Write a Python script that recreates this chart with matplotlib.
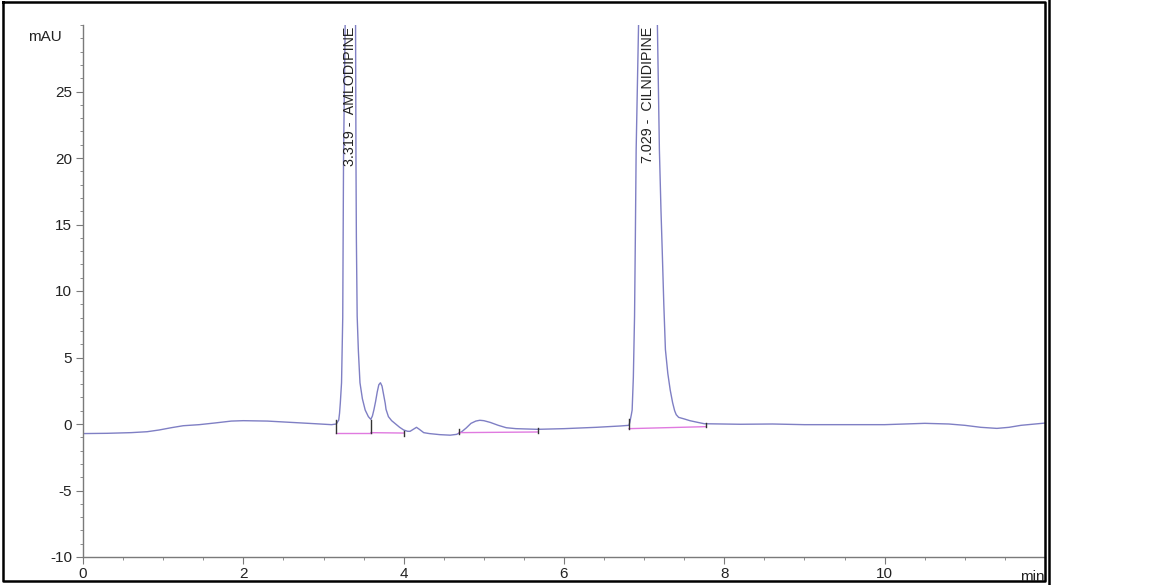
import numpy as np
import matplotlib
matplotlib.use("Agg")
import matplotlib.pyplot as plt
from matplotlib.lines import Line2D

plt.rcParams["font.family"] = ["Liberation Sans", "DejaVu Sans"]
plt.rcParams["axes.unicode_minus"] = False

# chromatogram trace (min, mAU)
time_min = [0.0, 0.3, 0.6, 0.8, 0.95, 1.1, 1.25, 1.45, 1.65, 1.85, 2.0, 2.3, 2.6, 2.9, 3.1,
            3.16, 3.19, 3.20, 3.21, 3.225, 3.24, 3.25, 3.27, 3.33, 3.40, 3.405, 3.41,
            3.42, 3.435, 3.455, 3.485, 3.52, 3.56, 3.59,
            3.61, 3.63, 3.65, 3.67, 3.69, 3.71, 3.73, 3.75, 3.77, 3.78, 3.81, 3.85,
            3.90, 3.95, 4.00, 4.05,
            4.08, 4.12, 4.16, 4.20, 4.25, 4.32, 4.45, 4.58, 4.66, 4.72, 4.78, 4.84,
            4.90, 4.95, 5.00, 5.08, 5.18, 5.28, 5.40, 5.67, 6.0, 6.4, 6.7, 6.81,
            6.82, 6.83, 6.84, 6.85, 6.865, 6.88, 6.89, 6.90, 6.93, 7.03, 7.165, 7.19,
            7.21, 7.225, 7.245, 7.265, 7.295, 7.325, 7.355, 7.38, 7.40, 7.43, 7.50, 7.57,
            7.67, 7.75, 8.2, 8.6, 9.0, 9.5, 10.0, 10.5, 10.8, 11.0, 11.2, 11.4, 11.55,
            11.7, 12.0]
signal_mau = [-0.72, -0.7, -0.65, -0.58, -0.45, -0.28, -0.13, -0.05, 0.08, 0.22, 0.25, 0.22,
              0.12, 0.02, -0.05,
              0.0, 0.3, 0.8, 1.6, 3.1, 8.0, 20.0, 30.0, 45.0, 30.0, 20.0, 14.0,
              8.1, 5.5, 3.1, 1.9, 1.05, 0.55, 0.35,
              0.6, 1.1, 1.7, 2.4, 2.95, 3.1, 2.85, 2.2, 1.55, 1.1, 0.55, 0.25,
              0.0, -0.25, -0.45, -0.55,
              -0.55, -0.4, -0.25, -0.42, -0.65, -0.72, -0.8, -0.84, -0.78, -0.6, -0.3,
              0.05, 0.22, 0.28, 0.25, 0.12, -0.1, -0.28, -0.35, -0.4, -0.35, -0.25,
              -0.15, -0.1,
              0.1, 0.4, 0.7, 1.05, 3.5, 8.1, 14.0, 20.6, 30.0, 50.0, 30.0, 20.6,
              16.0, 13.1, 9.0, 5.6, 3.8, 2.55, 1.6, 1.0, 0.7, 0.5, 0.38, 0.25,
              0.12, 0.02, -0.02, 0.0, -0.05, -0.05, -0.05, 0.05, 0.0, -0.1, -0.25,
              -0.33, -0.25, -0.1, 0.07]

# peak labels
peak_rt = [3.319, 7.029]
peak_label_x = [3.335, 7.05]
peak_names = ["AMLODIPINE", "CILNIDIPINE"]

# integration baselines (start, end)
base_t0 = [3.16, 3.59, 4.69, 6.81]
base_t1 = [3.59, 4.00, 5.67, 7.77]
base_y0 = [-0.65, -0.65, -0.65, -0.35]
base_y1 = [-0.65, -0.68, -0.60, -0.20]
# little marks at integration start/end (time, bottom, top)
mark_t = [3.16, 3.59, 4.00, 4.69, 5.67, 6.81, 7.77]
mark_lo = [-0.65, -0.65, -0.9, -0.75, -0.7, -0.35, -0.25]
mark_hi = [0.3, 0.3, -0.55, -0.4, -0.33, 0.4, 0.1]

W, H = 1154, 585
fig = plt.figure(figsize=(W / 100, H / 100), dpi=100)
ax = fig.add_axes([83 / W, 1 - 557 / H, (1045 - 83) / W, (557 - 25) / H])

ax.plot(time_min, signal_mau, color="#7f7fc4", lw=1.0)
for t0, t1, y0, y1 in zip(base_t0, base_t1, base_y0, base_y1):
    ax.plot([t0, t1], [y0, y1], color="#e07ae0", lw=1.0)
for t, lo, hi in zip(mark_t, mark_lo, mark_hi):
    ax.plot([t, t], [lo, hi], color="#333333", lw=1.0)

for x, rt, name in zip(peak_label_x, peak_rt, peak_names):
    ax.text(x, 29.9, f"{rt:.3f} -  {name}", rotation=90, ha="center", va="top",
            fontsize=10.3, color="#222222")

ax.set_xlim(0, 12)
ax.set_ylim(-10, 30)
ax.set_xticks([0, 2, 4, 6, 8, 10])
ax.set_xticks(np.arange(0.5, 12, 0.5), minor=True)
ax.set_yticks([-10, -5, 0, 5, 10, 15, 20, 25])
ax.set_yticks(np.arange(-10, 31, 1), minor=True)
for s in ["top", "right"]:
    ax.spines[s].set_visible(False)
for s in ["left", "bottom"]:
    ax.spines[s].set_color("#7a7a7a")
    ax.spines[s].set_linewidth(1.0)
ax.tick_params(axis="both", which="major", length=5, color="#7a7a7a",
               labelsize=11, labelcolor="#222222")
ax.tick_params(axis="both", which="minor", length=2.2, color="#7a7a7a")
ax.tick_params(axis="y", which="major", pad=3)
ax.tick_params(axis="x", which="major", pad=2)

fig.text(45 / W, 1 - 37 / H, "mAU", ha="center", va="center", fontsize=11, color="#222222")
fig.text(1045 / W, 1 - 577 / H, "min", ha="right", va="center", fontsize=11, color="#222222")

# outer frame of the picture
frame_x = [3, 1045, 1045, 3, 3]
frame_y = [2, 2, 581, 581, 2]
fig.add_artist(Line2D([x / W for x in frame_x], [1 - y / H for y in frame_y],
                      color="black", lw=1.8))
fig.add_artist(Line2D([1048.5 / W, 1048.5 / W], [0, 1], color="black", lw=1.8))

fig.savefig("out.png", dpi=100)
